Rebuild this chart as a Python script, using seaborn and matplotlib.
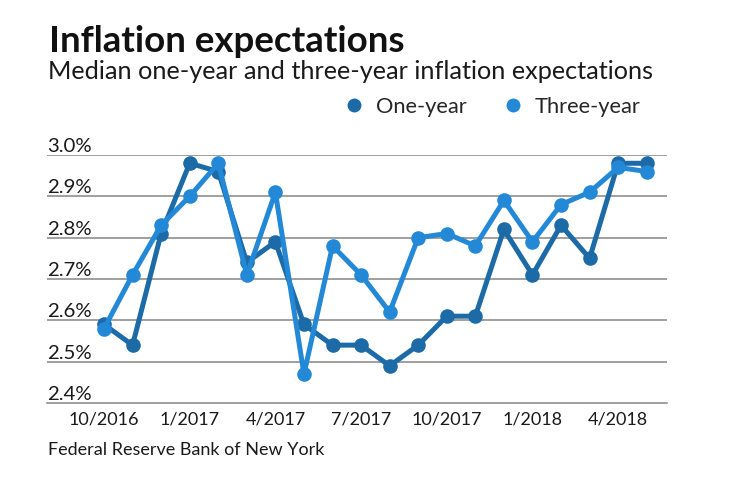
import matplotlib
matplotlib.use("Agg")
import matplotlib.pyplot as plt
from matplotlib.lines import Line2D
import seaborn as sns
import pandas as pd
import numpy as np

# ---- data ----
months = ["10/2016", "11/2016", "12/2016", "1/2017", "2/2017", "3/2017", "4/2017",
          "5/2017", "6/2017", "7/2017", "8/2017", "9/2017", "10/2017", "11/2017",
          "12/2017", "1/2018", "2/2018", "3/2018", "4/2018", "5/2018"]
one_year = [2.59, 2.54, 2.81, 2.98, 2.96, 2.74, 2.79, 2.59, 2.54, 2.54,
            2.49, 2.54, 2.61, 2.61, 2.82, 2.71, 2.83, 2.75, 2.98, 2.98]
three_year = [2.58, 2.71, 2.83, 2.90, 2.98, 2.71, 2.91, 2.47, 2.78, 2.71,
              2.62, 2.80, 2.81, 2.78, 2.89, 2.79, 2.88, 2.91, 2.97, 2.96]
series_names = ["One-year", "Three-year"]
x_tick_labels = ["10/2016", "1/2017", "4/2017", "7/2017", "10/2017", "1/2018", "4/2018"]
y_ticks = [2.4, 2.5, 2.6, 2.7, 2.8, 2.9, 3.0]
y_tick_labels = ["2.4%", "2.5%", "2.6%", "2.7%", "2.8%", "2.9%", "3.0%"]

DARK = "#1c6aa6"
LIGHT = "#2389d7"
TEXT = "#1a1a1a"
GRID = "#858585"

df = pd.DataFrame({
    "idx": list(range(len(months))) * 2,
    "month": months * 2,
    "value": one_year + three_year,
    "series": [series_names[0]] * len(months) + [series_names[1]] * len(months),
})

sns.set_theme(style="white")
FONT = ["Lato", "DejaVu Sans"]
plt.rcParams["font.family"] = FONT

W, H = 740, 482
fig = plt.figure(figsize=(W / 100, H / 100), dpi=100)
renderer = fig.canvas.get_renderer()


def fit_size(s, target_px, weight="normal"):
    t = fig.text(0, 0, s, fontsize=10, fontweight=weight)
    w = t.get_window_extent(renderer).width
    t.remove()
    return 10 * target_px / w


ax = fig.add_axes([47 / W, 1 - 403 / H, (667 - 47) / W, (403 - 155) / H])

sns.lineplot(data=df, x="idx", y="value", hue="series",
             palette={series_names[0]: DARK, series_names[1]: LIGHT},
             hue_order=series_names, marker="o", markersize=10.5,
             markeredgewidth=0, linewidth=3.6, ax=ax, legend=False,
             clip_on=False, zorder=3)

ax.set_xlim(-1.996, 19.71)
ax.set_ylim(2.4, 3.0)

# grid lines
for v in y_ticks[1:]:
    ax.axhline(v, color=GRID, lw=1.1, zorder=1)

for s in ["top", "right", "left"]:
    ax.spines[s].set_visible(False)
ax.spines["bottom"].set_color(GRID)
ax.spines["bottom"].set_linewidth(1.1)

# x ticks
xt_size = fit_size("10/2016", 71)
ax.set_xticks(list(range(0, len(months), 3)))
ax.set_xticklabels(x_tick_labels, fontsize=xt_size, color=TEXT)
ax.tick_params(axis="x", length=0, pad=6)

# y ticks (inside, left aligned, above lines)
yt_size = fit_size("2.4%", 45)
ax.set_yticks(y_ticks)
ax.set_yticklabels(y_tick_labels, fontsize=yt_size, color=TEXT)
ax.tick_params(axis="y", length=0, pad=0)
for lab in ax.get_yticklabels():
    lab.set_horizontalalignment("left")
    lab.set_verticalalignment("bottom")
ax.set_xlabel("")
ax.set_ylabel("")

# titles
fig.text(49 / W, 1 - 52 / H, "Inflation expectations",
         fontsize=fit_size("Inflation expectations", 356, "bold"),
         fontweight="bold", color="#111111", va="baseline", ha="left")
fig.text(48 / W, 1 - 79 / H, "Median one-year and three-year inflation expectations",
         fontsize=fit_size("Median one-year and three-year inflation expectations", 605),
         color=TEXT, va="baseline", ha="left")
fig.text(48 / W, 1 - 455 / H, "Federal Reserve Bank of New York",
         fontsize=fit_size("Federal Reserve Bank of New York", 277),
         color=TEXT, va="baseline", ha="left")

# legend
leg_size = fit_size("One-year", 91)
handles = [Line2D([], [], ls="none", marker="o", markersize=10, color=c, markeredgewidth=0)
           for c in (DARK, LIGHT)]
fig.legend(handles, series_names, loc="center left",
           bbox_to_anchor=(343 / W, 1 - 107 / H), ncol=2, frameon=False,
           fontsize=leg_size, handlelength=1.0, handletextpad=0.5,
           columnspacing=1.6, borderaxespad=0, borderpad=0)

fig.savefig("out.png", dpi=100, facecolor="white")
